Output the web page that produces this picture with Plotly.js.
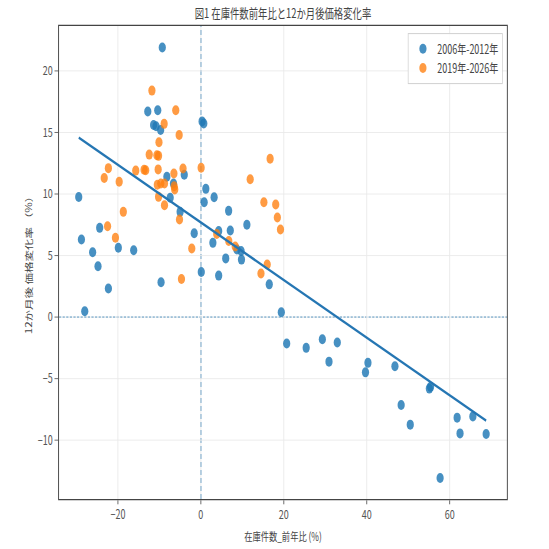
<!DOCTYPE html>
<html>
<head>
<meta charset="utf-8">
<script src="https://cdn.plot.ly/plotly-3.0.1.min.js"></script>
<style>
html,body{margin:0;padding:0;background:#fff;overflow:hidden;}
#wrap{width:549px;height:549px;overflow:hidden;}
#chart{width:762px;height:549px;transform:scaleX(0.72);transform-origin:0 0;}
</style>
</head>
<body>
<div id="wrap"><div id="chart"></div></div>
<script>
// ---- data ----
const chartTitle = "図1 在庫件数前年比と12か月後価格変化率";
const xTitle = "在庫件数_前年比 (%)";
const yTitle = "12か月後 価格変化率 （%）";
const seriesNames = ["2006年-2012年", "2019年-2026年"];

const blueX = [-9.3,-29.45,-28.8,-28.0,-26.1,-24.8,-24.4,-22.3,-19.9,-16.2,-12.8,-10.4,-11.4,-10.8,-9.7,-9.6,-8.2,-7.4,-6.6,-4.0,0.3,0.7,-5.0,-1.6,0.1,0.8,1.2,3.2,2.9,4.3,4.3,6.0,6.7,7.1,8.7,9.7,9.8,11.1,16.5,19.4,20.7,25.4,29.3,30.9,32.9,40.3,39.7,46.8,55.4,55.1,48.3,50.5,61.8,62.5,65.6,68.8,57.7];
const blueY = [21.9,9.76,6.30,0.47,5.27,4.13,7.25,2.32,5.63,5.43,16.7,16.8,15.6,15.5,15.2,2.83,11.4,9.7,10.85,11.57,15.9,15.73,8.55,6.81,3.66,9.33,10.42,9.74,6.03,7.0,3.37,4.77,8.63,7.03,5.49,5.37,4.67,7.5,2.66,0.39,-2.15,-2.5,-1.8,-3.62,-2.07,-3.72,-4.49,-4.0,-5.67,-5.81,-7.14,-8.74,-8.17,-9.45,-8.07,-9.5,-13.07];

const orangeX = [-11.8,-6.05,-8.85,-5.23,-10.1,-12.45,-10.6,-10.2,-22.3,-23.3,-19.7,-15.7,-13.7,-13.3,-10.3,-6.5,-4.3,0.07,-10.5,-9.66,-8.77,-6.43,-6.3,-10.2,-8.77,-18.7,-22.5,-20.6,-5.15,-2.19,-4.68,16.7,11.9,15.2,18.05,18.45,19.2,3.83,6.73,8.29,16.0,14.5];
const orangeY = [18.4,16.8,15.7,14.8,14.2,13.2,13.15,13.1,12.1,11.3,11.0,11.9,11.97,11.93,12.0,11.67,12.07,12.13,10.75,10.85,10.85,10.63,10.37,9.77,9.09,8.55,7.38,6.44,7.93,5.57,3.09,12.86,11.2,9.33,9.15,8.09,7.11,6.75,6.18,5.73,4.27,3.54];

const xRange = [-34.2, 73.8];
const yRange = [-14.78, 23.65];
const refZero = 0;

// ---- least squares fit on all points ----
const allX = blueX.concat(orangeX);
const allY = blueY.concat(orangeY);
const n = allX.length;
const mx = allX.reduce((a,b)=>a+b,0)/n;
const my = allY.reduce((a,b)=>a+b,0)/n;
let sxy = 0, sxx = 0;
for (let i=0;i<n;i++){ sxy += (allX[i]-mx)*(allY[i]-my); sxx += (allX[i]-mx)*(allX[i]-mx); }
const slope = sxy/sxx;
const intercept = my - slope*mx;
const fitX = [Math.min(...allX), Math.max(...allX)];
const fitY = fitX.map(v => intercept + slope*v);

const FONT = '"Noto Sans CJK JP", "Noto Sans", sans-serif';

const traces = [
  {x: blueX, y: blueY, type: 'scatter', mode: 'markers', name: seriesNames[0],
   marker: {color: '#1f77b4', size: 10, opacity: 0.82, line: {width: 0}}},
  {x: orangeX, y: orangeY, type: 'scatter', mode: 'markers', name: seriesNames[1],
   marker: {color: '#ff7f0e', size: 10, opacity: 0.78, line: {width: 0}}},
  {x: fitX, y: fitY, type: 'scatter', mode: 'lines', showlegend: false, hoverinfo: 'skip',
   line: {color: '#2576b3', width: 2.6}}
];

const axisCommon = {
  showgrid: true, gridcolor: '#e9e9e9', gridwidth: 1,
  zeroline: false, showline: true, mirror: true, linecolor: '#444', linewidth: 1.3,
  ticks: 'outside', tickcolor: '#555',
  tickfont: {family: FONT, size: 12.5, color: '#555'}
};

const layout = {
  width: 762, height: 549,
  margin: {l: 82, r: 58, t: 26, b: 50, pad: 0},
  paper_bgcolor: '#fff', plot_bgcolor: '#fff',
  font: {family: FONT, color: '#444'},
  title: {text: chartTitle, x: 0.5, xref: 'paper', xanchor: 'center',
          y: 0.976, yref: 'container', yanchor: 'middle',
          font: {family: FONT, size: 13, color: '#444'}},
  xaxis: Object.assign({}, axisCommon, {
    range: xRange, tick0: 0, dtick: 20, ticklen: 4,
    title: {text: xTitle, standoff: 10, font: {family: FONT, size: 11.5, color: '#444'}}
  }),
  yaxis: Object.assign({}, axisCommon, {
    range: yRange, tick0: 0, dtick: 5, ticklen: 5,
    title: {text: yTitle, standoff: 4, font: {family: FONT, size: 11.5, color: '#444'}}
  }),
  legend: {x: 0.991, y: 0.985, xanchor: 'right', yanchor: 'top',
           bgcolor: 'rgba(255,255,255,0.85)', bordercolor: '#d0d0d0', borderwidth: 1,
           tracegroupgap: 4,
           font: {family: FONT, size: 12.5, color: '#444'}},
  shapes: [
    {type: 'line', xref: 'x', yref: 'paper', x0: refZero, x1: refZero, y0: 0, y1: 1, layer: 'below',
     line: {color: 'rgba(31,119,180,0.85)', width: 1.7, dash: '5px,3px'}},
    {type: 'line', xref: 'paper', yref: 'y', x0: 0, x1: 1, y0: refZero, y1: refZero, layer: 'below',
     line: {color: '#1f77b4', width: 1.3, dash: '3px,2px'}}
  ]
};

Plotly.newPlot('chart', traces, layout, {displayModeBar: false, staticPlot: true});
</script>
</body>
</html>
